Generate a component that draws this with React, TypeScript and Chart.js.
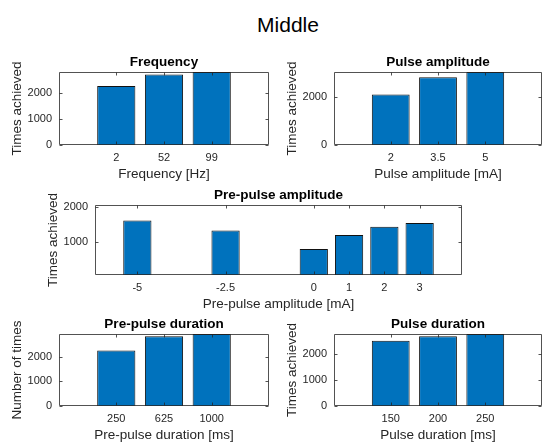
import React, { useEffect, useRef } from "react";
import { Chart, registerables } from "chart.js";

Chart.register(...registerables);

// ---- data ----
const figureTitle = "Middle";

const freqLabels = ["2", "52", "99"];
const freqValues = [2286, 2733, 2825];

const pulseAmpLabels = ["2", "3.5", "5"];
const pulseAmpValues = [2101, 2820, 3044];

const prePulseAmpX = [-5, -2.5, 0, 1, 2, 3];
const prePulseAmpLabels = ["-5", "-2.5", "0", "1", "2", "3"];
const prePulseAmpValues = [1615, 1330, 812, 1203, 1435, 1540];

const prePulseDurLabels = ["250", "625", "1000"];
const prePulseDurValues = [2245, 2820, 2910];

const pulseDurLabels = ["150", "200", "250"];
const pulseDurValues = [2490, 2658, 2748];

const yTicksFull = [0, 1000, 2000];
const yTicksPulseAmp = [0, 2000];
const yTicksPrePulseAmp = [1000, 2000];

const FONT = "'Liberation Sans', Arial, Helvetica, sans-serif";
const BAR = "#0072BD";
const AX = "#262626";

type Sub = {
  title: string;
  xTitle: string;
  yTitle: string;
  xs: number[];
  values: number[];
  xTickLabels: string[];
  yTicks: number[];
  xMin: number;
  xMax: number;
  yMin: number;
  yMax: number;
  box: { L: number; T: number; R: number; B: number };
};

const catPos = (labels: string[]) => labels.map((_, i) => i + 1);

const subs: Sub[] = [
  {
    title: "Frequency",
    xTitle: "Frequency [Hz]",
    yTitle: "Times achieved",
    xs: catPos(freqLabels),
    values: freqValues,
    xTickLabels: freqLabels,
    yTicks: yTicksFull,
    xMin: -0.2,
    xMax: 4.2,
    yMin: 0,
    yMax: 2825,
    box: { L: 59, T: 72, R: 268, B: 144 },
  },
  {
    title: "Pulse amplitude",
    xTitle: "Pulse amplitude [mA]",
    yTitle: "Times achieved",
    xs: catPos(pulseAmpLabels),
    values: pulseAmpValues,
    xTickLabels: pulseAmpLabels,
    yTicks: yTicksPulseAmp,
    xMin: -0.2,
    xMax: 4.2,
    yMin: 0,
    yMax: 3044,
    box: { L: 334, T: 72, R: 541, B: 144 },
  },
  {
    title: "Pre-pulse amplitude",
    xTitle: "Pre-pulse amplitude [mA]",
    yTitle: "Times achieved",
    xs: prePulseAmpX,
    values: prePulseAmpValues,
    xTickLabels: prePulseAmpLabels,
    yTicks: yTicksPrePulseAmp,
    xMin: -6.2,
    xMax: 4.2,
    yMin: 75,
    yMax: 2050,
    box: { L: 95, T: 205, R: 461, B: 274 },
  },
  {
    title: "Pre-pulse duration",
    xTitle: "Pre-pulse duration [ms]",
    yTitle: "Number of times",
    xs: catPos(prePulseDurLabels),
    values: prePulseDurValues,
    xTickLabels: prePulseDurLabels,
    yTicks: yTicksFull,
    xMin: -0.2,
    xMax: 4.2,
    yMin: 0,
    yMax: 2910,
    box: { L: 59, T: 334, R: 268, B: 405 },
  },
  {
    title: "Pulse duration",
    xTitle: "Pulse duration [ms]",
    yTitle: "Times achieved",
    xs: catPos(pulseDurLabels),
    values: pulseDurValues,
    xTickLabels: pulseDurLabels,
    yTicks: yTicksFull,
    xMin: -0.2,
    xMax: 4.2,
    yMin: 0,
    yMax: 2748,
    box: { L: 334, T: 334, R: 541, B: 405 },
  },
];

const Y_W = 52; // width reserved for y axis (labels + title)
const T_H = 20; // height reserved for subplot title
const X_H = 38; // height reserved for x axis (labels + title)

const boxPlugin = {
  id: "matlabBox",
  afterDatasetsDraw(chart: any) {
    const { ctx, chartArea: a, scales } = chart;
    const l = Math.floor(a.left) + 0.5;
    const r = Math.ceil(a.right) - 0.5;
    const t = Math.floor(a.top) + 0.5;
    const b = Math.ceil(a.bottom) - 0.5;
    ctx.save();
    ctx.strokeStyle = AX;
    ctx.lineWidth = 0.8;
    ctx.beginPath();
    ctx.rect(l, t, r - l, b - t);
    const tl = 3;
    scales.x.ticks.forEach((tk: any) => {
      const px = Math.round(scales.x.getPixelForValue(tk.value)) + 0.5;
      ctx.moveTo(px, b);
      ctx.lineTo(px, b - tl);
      ctx.moveTo(px, t);
      ctx.lineTo(px, t + tl);
    });
    scales.y.ticks.forEach((tk: any) => {
      const py = Math.round(scales.y.getPixelForValue(tk.value)) + 0.5;
      ctx.moveTo(l, py);
      ctx.lineTo(l + tl, py);
      ctx.moveTo(r, py);
      ctx.lineTo(r - tl, py);
    });
    ctx.stroke();
    ctx.restore();
  },
};

function SubPlot({ s }: { s: Sub }) {
  const ref = useRef<HTMLCanvasElement | null>(null);
  const { L, T, R, B } = s.box;
  const left = L - Y_W;
  const top = T - T_H;
  const width = Y_W + (R + 1 - L);
  const height = T_H + (B + 1 - T) + X_H;

  useEffect(() => {
    if (!ref.current) return;
    const chart = new Chart(ref.current, {
      type: "bar",
      data: {
        datasets: [
          {
            data: s.xs.map((x, i) => ({ x, y: s.values[i] })),
            backgroundColor: BAR,
            borderColor: "#111111",
            borderWidth: 1,
            barPercentage: 0.8,
            categoryPercentage: 1,
          },
        ],
      },
      options: {
        responsive: false,
        animation: false,
        devicePixelRatio: 1,
        layout: { padding: 0 },
        plugins: {
          legend: { display: false },
          tooltip: { enabled: false },
          title: {
            display: true,
            text: s.title,
            fullSize: false,
            color: "#000",
            font: { family: FONT, size: 13.5, weight: "bold", lineHeight: 1.2 },
            padding: { top: 1.9, bottom: 1.9 },
          },
        },
        scales: {
          x: {
            type: "linear",
            min: s.xMin,
            max: s.xMax,
            offset: false,
            grid: { display: false, drawTicks: false, tickLength: 0 },
            border: { display: false },
            afterBuildTicks: (sc: any) => {
              sc.ticks = s.xs.map((v) => ({ value: v }));
            },
            afterFit: (sc: any) => {
              sc.height = X_H;
            },
            ticks: {
              autoSkip: false,
              maxRotation: 0,
              padding: 6,
              color: AX,
              font: { family: FONT, size: 11 },
              callback: (_v: any, i: number) => s.xTickLabels[i],
            },
            title: {
              display: true,
              text: s.xTitle,
              color: AX,
              font: { family: FONT, size: 13.5, lineHeight: 1.2 },
              padding: { top: 0, bottom: 0.9 },
            },
          },
          y: {
            type: "linear",
            min: s.yMin,
            max: s.yMax,
            grid: { display: false, drawTicks: false, tickLength: 0 },
            border: { display: false },
            afterBuildTicks: (sc: any) => {
              sc.ticks = s.yTicks.map((v) => ({ value: v }));
            },
            afterFit: (sc: any) => {
              sc.width = Y_W;
            },
            ticks: {
              padding: 7,
              color: AX,
              font: { family: FONT, size: 11 },
              callback: (v: any) => String(v),
            },
            title: {
              display: true,
              text: s.yTitle,
              color: AX,
              font: { family: FONT, size: 13.5, lineHeight: 1.2 },
              padding: { top: 2.4, bottom: 0 },
            },
          },
        },
      } as any,
      plugins: [boxPlugin],
    });
    return () => chart.destroy();
  }, []);

  return (
    <canvas
      ref={ref}
      width={width}
      height={height}
      style={{ position: "absolute", left, top, width, height }}
    />
  );
}

export default function App() {
  return (
    <div
      style={{
        position: "absolute",
        left: 0,
        top: 0,
        width: 542,
        height: 443,
        background: "#fff",
        overflow: "hidden",
      }}
    >
      <div
        style={{
          position: "absolute",
          left: 0,
          top: 14,
          width: 576,
          textAlign: "center",
          fontFamily: FONT,
          fontSize: 21,
          lineHeight: "21px",
          color: "#000",
        }}
      >
        {figureTitle}
      </div>
      {subs.map((s, i) => (
        <SubPlot key={i} s={s} />
      ))}
    </div>
  );
}
